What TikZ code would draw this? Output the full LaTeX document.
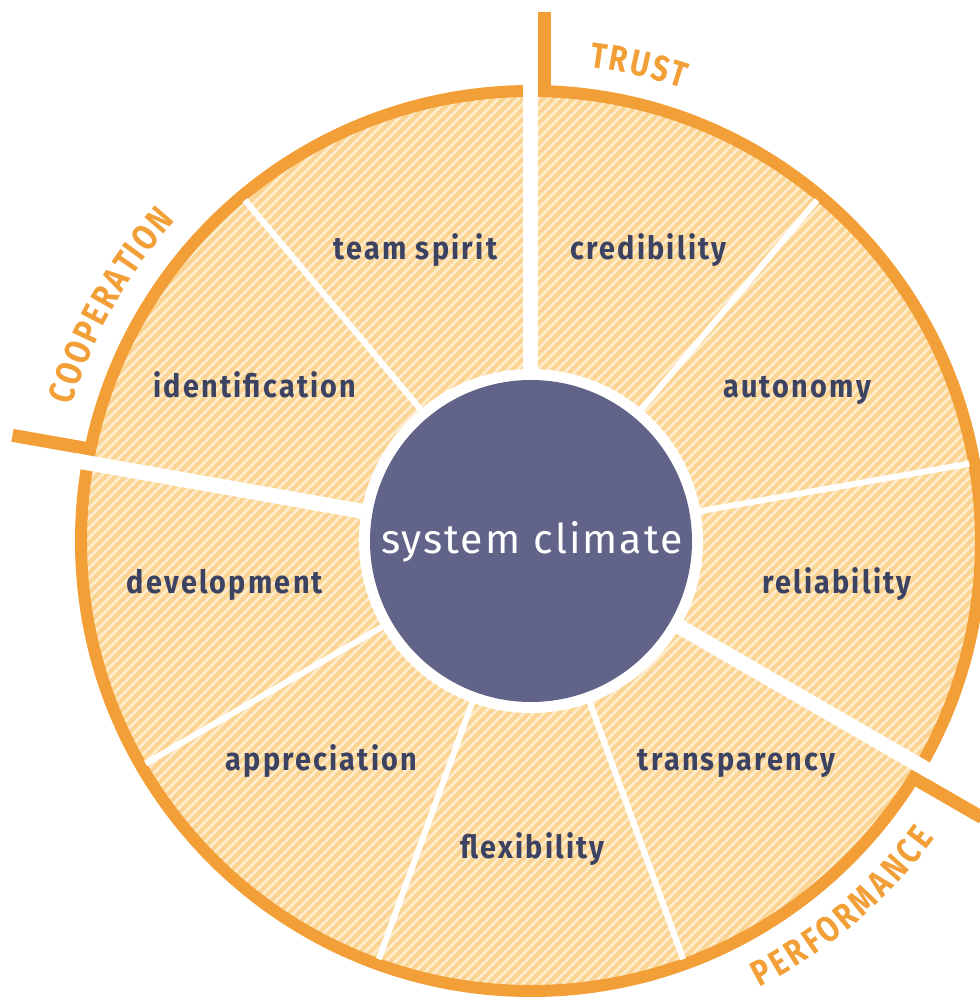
\documentclass[tikz,border=0pt]{standalone}
\usepackage{fontspec}
\setmainfont{Fira Sans}
\newfontfamily\labfont[FakeStretch=0.82]{Fira Sans}
\newfontfamily\segfamily[FakeStretch=0.9,LetterSpace=7]{Fira Sans}
\newfontfamily\centerfamily[LetterSpace=5]{Fira Sans}
\definecolor{ringor}{RGB}{242,159,55}
\definecolor{hatchlight}{RGB}{254,236,206}
\definecolor{hatchdark}{RGB}{252,212,146}
\definecolor{segtext}{RGB}{60,66,98}
\definecolor{corefill}{RGB}{97,99,137}
\newcommand\catfont{\labfont\bfseries\fontsize{36}{36}\selectfont}
\newlength\arcLa
\newlength\arcLb
% #1 word, #2 letters, #3 count, #4 radius, #5 mid angle, #6 dir (1 top, -1 bottom), #7 tracking
\newcommand\arclabel[7]{%
  \setbox0=\hbox{\pgfinterruptpicture\catfont #1\endpgfinterruptpicture}\setlength\arcLa{\wd0}%
  \pgfmathsetmacro\arctotal{\arcLa+(#3-1)*#7}%
  \gdef\arcprefix{}%
  \foreach \ch [count=\i] in {#2} {%
    \setbox0=\hbox{\pgfinterruptpicture\catfont\arcprefix\endpgfinterruptpicture}\setlength\arcLa{\wd0}%
    \setbox2=\hbox{\pgfinterruptpicture\catfont\ch\endpgfinterruptpicture}\setlength\arcLb{\wd2}%
    \pgfmathsetmacro\arcs{\arcLa+(\i-1)*#7+0.5*\arcLb-0.5*\arctotal}%
    \pgfmathsetmacro\arca{#5-(#6)*\arcs/#4*57.29578}%
    \pgfmathsetmacro\arcr{\arca-(#6)*90}%
    \node[catletter, rotate=\arcr] (lab#1\i) at (\arca:#4) {\ch};%
    \xdef\arcprefix{\arcprefix\ch}%
  }%
}
\tikzset{
  seglabel/.style={anchor=base, text=segtext, inner sep=0pt,
    font=\segfamily\bfseries\fontsize{32}{32}\selectfont},
  catletter/.style={text=ringor, font=\catfont, inner sep=0pt, anchor=center},
  ringline/.style={draw=ringor, line width=12pt},
  tickline/.style={draw=ringor, line width=13pt},
  biggap/.style={draw=white, line width=15pt},
  thingap/.style={draw=white, line width=6pt},
  corecircle/.style={circle, fill=corefill, minimum size=322pt, inner sep=0pt},
  coretext/.style={text=white, inner sep=0pt, anchor=base,
    font=\centerfamily\fontsize{41}{41}\selectfont}
}
\begin{document}
\begin{tikzpicture}[x=1pt,y=1pt]
\useasboundingbox (-531,-458) rectangle (449,541);
\fill[white] (-531,-458) rectangle (449,541);
% hatched disc
\begin{scope}
  \clip (0,0) circle (450);
  \fill[hatchlight] (0,0) circle (450);
  \foreach \k in {-1000,-990,...,1000}
    \draw[hatchdark, line width=4pt] ({\k-500},-500) -- ({\k+500},500);
\end{scope}
% outer ring
\draw[ringline] (0,0) circle (450);
% ticks beside the three main gaps
\foreach \a in {90,170,330}
  \draw[tickline, shift={(\a-90:14)}] (\a:445) -- (\a:529);
% thin dividers
\foreach \a in {50,10,290,250,210,130}
  \draw[thingap] (\a:165) -- (\a:445);
% main gaps
\foreach \a in {90,170,330}
  \draw[biggap] (0,0) -- (\a:463);
% core
\fill[white] (0,0) circle (172);
\node[corecircle] (core) at (0,0) {};
\node[coretext] (coretxt) at (1,-12) {system climate};
% segment labels
\node[seglabel] (teamspirit) at (-115.5,281) {team spirit};
\node[seglabel] (credibility) at (117.5,281) {credibility};
\node[seglabel] (identification) at (-276,143) {identification};
\node[seglabel] (autonomy) at (266,143) {autonomy};
\node[seglabel] (development) at (-306,-52) {development};
\node[seglabel] (reliability) at (306,-52) {reliability};
\node[seglabel] (appreciation) at (-209.5,-229) {appreciation};
\node[seglabel] (transparency) at (205.5,-229) {transparency};
\node[seglabel] (flexibility) at (1.5,-317) {flexibility};
% category labels
\arclabel{TRUST}{T,R,U,S,T}{5}{490}{77.25}{1}{3}
\arclabel{COOPERATION}{C,O,O,P,E,R,A,T,I,O,N}{11}{491}{150.8}{1}{3}
\arclabel{PERFORMANCE}{P,E,R,F,O,R,M,A,N,C,E}{11}{489}{-49.6}{-1}{3}
\end{tikzpicture}
\end{document}
